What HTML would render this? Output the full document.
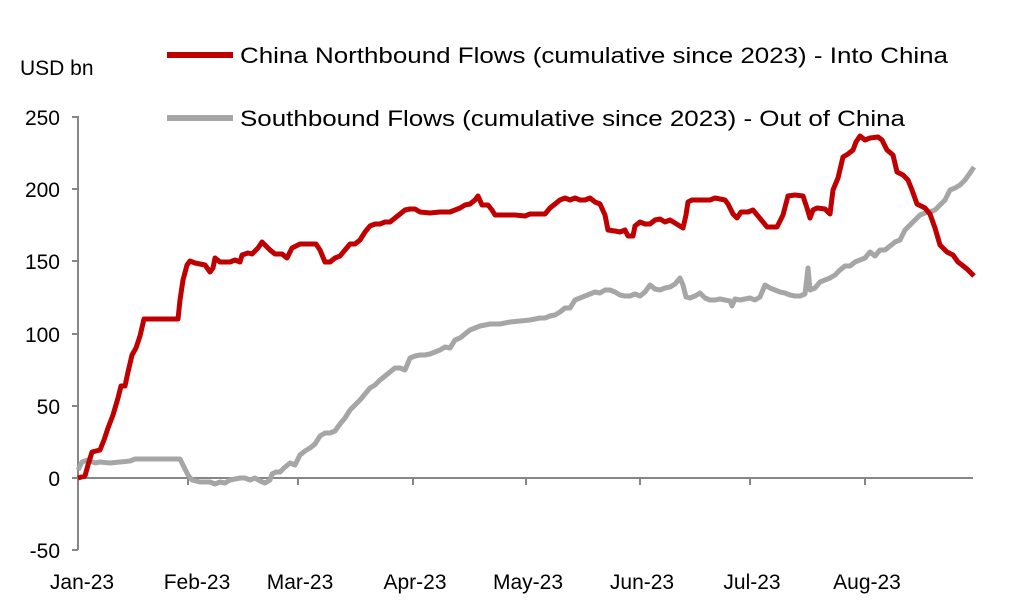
<!DOCTYPE html>
<html><head><meta charset="utf-8"><style>html,body{margin:0;padding:0;background:#fff}svg{display:block}</style></head>
<body>
<svg width="1022" height="615" viewBox="0 0 1022 615" xmlns="http://www.w3.org/2000/svg" font-family="Liberation Sans, Arial, sans-serif" fill="#000">
<g stroke="#868686" stroke-width="2" fill="none">
<line x1="78" y1="116" x2="78" y2="550"/>
<line x1="72" y1="117" x2="78" y2="117"/><line x1="72" y1="189" x2="78" y2="189"/><line x1="72" y1="261" x2="78" y2="261"/><line x1="72" y1="334" x2="78" y2="334"/><line x1="72" y1="406" x2="78" y2="406"/><line x1="72" y1="478" x2="78" y2="478"/><line x1="72" y1="550" x2="78" y2="550"/>
<line x1="78" y1="478" x2="973" y2="478"/>
<line x1="188" y1="478" x2="188" y2="485"/><line x1="298" y1="478" x2="298" y2="485"/><line x1="413" y1="478" x2="413" y2="485"/><line x1="526" y1="478" x2="526" y2="485"/><line x1="640" y1="478" x2="640" y2="485"/><line x1="750" y1="478" x2="750" y2="485"/><line x1="865" y1="478" x2="865" y2="485"/>
</g>
<g font-size="21" text-anchor="end">
<text x="60" y="125">250</text><text x="60" y="197">200</text><text x="60" y="269">150</text><text x="60" y="342">100</text><text x="60" y="414">50</text><text x="60" y="486">0</text><text x="60" y="558">-50</text>
</g>
<g font-size="21" text-anchor="middle">
<text x="82" y="589">Jan-23</text><text x="197" y="589">Feb-23</text><text x="300" y="589">Mar-23</text><text x="415" y="589">Apr-23</text><text x="528" y="589">May-23</text><text x="642" y="589">Jun-23</text><text x="752" y="589">Jul-23</text><text x="867" y="589">Aug-23</text>
</g>
<text x="20" y="75" font-size="21">USD bn</text>
<line x1="167" y1="55" x2="233" y2="55" stroke="#c00000" stroke-width="6"/>
<line x1="167" y1="118" x2="233" y2="118" stroke="#a6a6a6" stroke-width="6"/>
<text x="240" y="63" font-size="22" textLength="708" lengthAdjust="spacingAndGlyphs">China Northbound Flows (cumulative since 2023) - Into China</text>
<text x="240" y="126" font-size="22" textLength="665" lengthAdjust="spacingAndGlyphs">Southbound Flows (cumulative since 2023) - Out of China</text>
<polyline fill="none" stroke="#a6a6a6" stroke-width="5" stroke-linejoin="round" points="78,470 82,462 88,460 95,463 100,462 110,463 120,462 130,461 135,459 170,459 180,459 183,465 188,475 192,480 200,482 210,482 215,484 220,482 225,483 230,480 240,478 245,478 250,480 255,478 260,481 265,483 270,480 272,474 276,472 280,472 284,468 290,463 295,465 300,455 305,451 310,448 315,444 320,436 325,433 330,433 335,431 340,424 345,418 350,410 355,405 360,400 365,394 370,388 375,385 380,380 385,376 390,372 395,368 400,368 405,370 410,358 415,356 420,355 425,355 430,354 435,352 440,350 445,347 450,348 455,340 460,338 465,334 470,330 475,328 480,326 490,324 500,324 510,322 520,321 530,320 540,318 545,318 550,316 555,315 560,312 565,308 570,308 575,300 580,298 585,296 590,294 595,292 600,293 605,290 610,290 615,292 620,295 625,296 630,296 635,294 640,296 645,292 650,285 655,289 660,290 665,288 670,287 675,284 680,278 683,285 686,297 690,298 695,296 700,293 705,298 710,300 715,300 720,299 725,300 730,301 732,306 735,299 740,300 745,299 750,298 755,300 760,297 765,285 770,288 775,290 780,292 785,293 790,295 795,296 800,296 805,294 808,268 810,290 815,288 820,282 825,280 830,278 835,275 840,270 845,266 850,266 855,262 860,260 865,258 870,252 875,256 880,250 885,250 890,246 895,242 900,240 905,230 910,225 915,220 920,215 925,213 930,212 935,210 940,205 945,200 950,190 955,188 960,185 965,180 970,173 974,167"/>
<polyline fill="none" stroke="#c00000" stroke-width="5" stroke-linejoin="round" points="78,478 85,476 88,465 92,452 100,450 104,440 108,428 113,415 118,398 121,386 125,386 128,372 132,355 136,348 140,336 144,319 150,319 158,319 170,319 178,319 180,300 183,280 187,265 190,261 195,263 200,264 205,265 210,272 213,268 215,258 220,262 225,262 230,262 235,260 240,262 242,255 248,253 252,254 258,248 262,242 265,245 270,250 275,254 282,254 287,258 292,248 300,244 308,244 316,244 320,250 325,262 330,262 335,258 340,256 345,250 350,244 355,244 360,240 365,232 370,226 375,224 380,224 385,222 390,222 395,218 400,214 405,210 410,209 415,209 420,212 430,213 440,212 450,212 455,210 460,208 465,205 470,204 475,200 478,196 482,205 488,205 492,210 495,215 505,215 515,215 525,216 530,214 535,214 545,214 550,208 555,204 560,200 565,198 570,200 575,198 580,200 585,200 590,198 595,202 600,204 605,215 608,230 615,231 620,232 625,230 628,236 633,236 635,226 640,222 645,224 650,224 655,220 660,219 665,222 670,220 675,223 683,228 686,215 688,202 692,200 700,200 710,200 715,198 725,200 728,204 733,214 737,218 741,212 748,212 753,210 758,216 763,222 767,227 777,227 783,215 788,196 795,195 803,196 807,208 810,218 813,210 817,208 825,209 830,214 833,190 838,178 843,157 848,154 853,150 856,142 860,136 865,140 870,138 878,137 882,140 887,150 893,155 897,172 903,175 908,180 912,190 917,204 925,208 930,214 935,228 940,245 947,252 953,255 958,262 962,265 967,269 974,276"/>
</svg>
</body></html>
